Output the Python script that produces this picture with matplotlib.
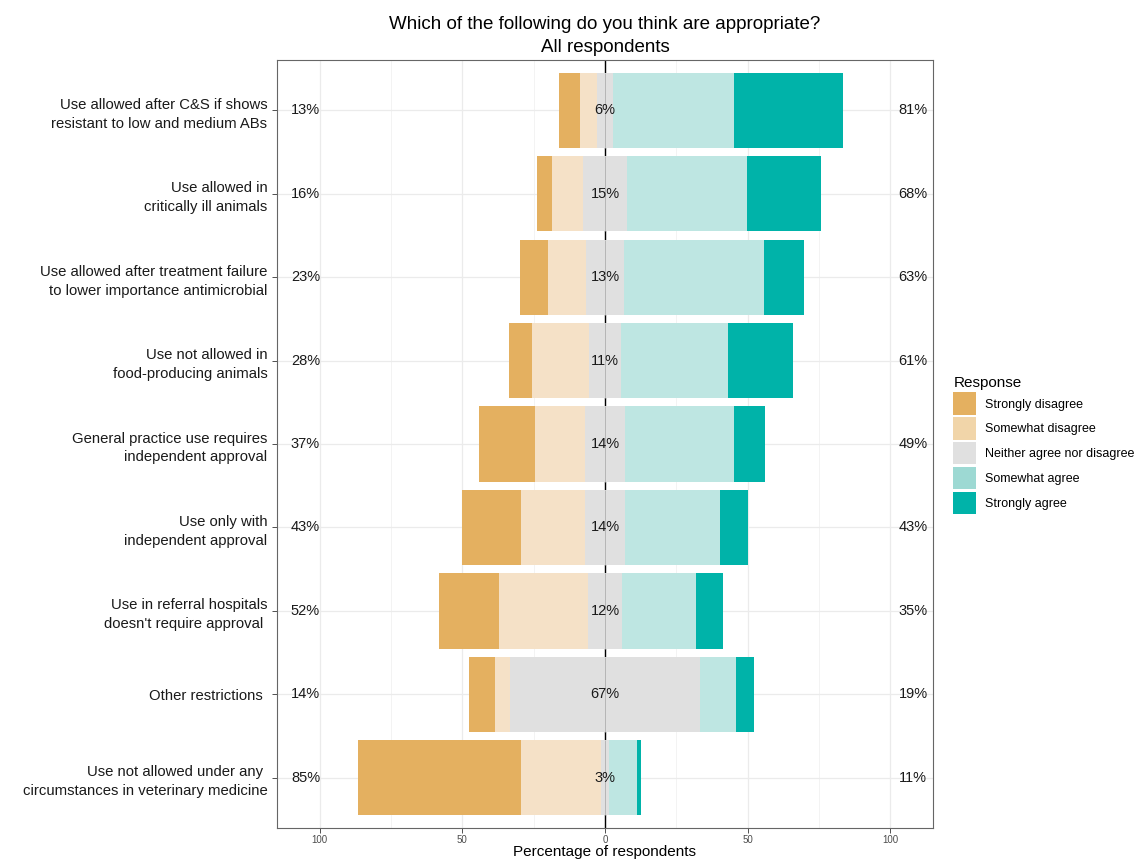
import matplotlib
matplotlib.use("Agg")
import matplotlib.pyplot as plt
from matplotlib.patches import Patch
import numpy as np

plt.rcParams["font.family"] = ["Liberation Sans", "DejaVu Sans"]

# items, top to bottom
items = [
    "Use allowed after C&S if shows\nresistant to low and medium ABs",
    "Use allowed in\ncritically ill animals",
    "Use allowed after treatment failure\nto lower importance antimicrobial",
    "Use not allowed in\nfood-producing animals",
    "General practice use requires\nindependent approval",
    "Use only with\nindependent approval",
    "Use in referral hospitals\ndoesn't require approval ",
    "Other restrictions ",
    "Use not allowed under any \ncircumstances in veterinary medicine",
]
responses = ["Strongly disagree", "Somewhat disagree", "Neither agree nor disagree",
             "Somewhat agree", "Strongly agree"]

# percentage of respondents per response level
strongly_disagree = [7.2, 5.3, 9.8, 8.2, 19.6, 20.5, 21.0, 8.9, 57.1]
somewhat_disagree = [6.0, 10.9, 13.4, 20.1, 17.4, 22.5, 31.2, 5.3, 28.0]
neutral = [5.8, 15.2, 13.3, 10.9, 14.0, 14.0, 12.2, 66.8, 3.0]
somewhat_agree = [42.5, 42.2, 49.1, 37.8, 38.4, 33.2, 25.8, 12.7, 9.6]
strongly_agree = [38.2, 26.1, 13.9, 22.8, 10.6, 9.8, 9.4, 6.1, 1.5]

bar_colors = ["#E4B060", "#F5E1C7", "#E0E0E0", "#BEE6E2", "#00B3A9"]
key_colors = ["#E4B060", "#F1D5A9", "#E0E0E0", "#9DD9D3", "#00B3A9"]

sd = np.array(strongly_disagree)
swd = np.array(somewhat_disagree)
nt = np.array(neutral)
swa = np.array(somewhat_agree)
sa = np.array(strongly_agree)

fig = plt.figure(figsize=(11.37, 8.59), dpi=100)
ax = fig.add_axes([0.2436, 0.0361, 0.577, 0.894])

y = np.arange(len(items))[::-1] + 1
bar_h = 0.9
segments = [sd, swd, nt, swa, sa]
start = -(sd + swd + nt / 2)
ax.axvline(0, color="black", lw=1.0, zorder=1)
for seg, col in zip(segments, bar_colors):
    ax.barh(y, seg, left=start, height=bar_h, color=col, linewidth=0, zorder=2)
    start = start + seg
# zero line shows faintly through the bars
ax.vlines(np.zeros(len(y)), y - bar_h / 2, y + bar_h / 2, color="#B5B5B5", lw=0.7, zorder=3)

for yi, l, m, r in zip(y, sd + swd, nt, swa + sa):
    ax.text(-105, yi, f"{l:.0f}%", ha="center", va="center", fontsize=10.5, color="#1a1a1a")
    ax.text(0, yi, f"{m:.0f}%", ha="center", va="center", fontsize=10.5, color="#1a1a1a", zorder=4)
    ax.text(108, yi, f"{r:.0f}%", ha="center", va="center", fontsize=10.5, color="#1a1a1a")

ax.set_xlim(-115, 115)
ax.set_ylim(0.4, len(items) + 0.6)
ax.set_yticks(y)
ax.set_yticklabels(items, fontsize=10.7, color="#1a1a1a", multialignment="right",
                   linespacing=1.45)
ax.set_xticks([-100, -50, 0, 50, 100])
ax.set_xticklabels(["100", "50", "0", "50", "100"], fontsize=7, color="#4D4D4D")
ax.set_xticks([-75, -25, 25, 75], minor=True)
ax.tick_params(axis="both", which="major", length=3.5, width=0.6, color="#333333")
ax.tick_params(axis="x", which="minor", length=0)
ax.tick_params(axis="x", pad=1.5)
ax.grid(True, which="major", color="#EBEBEB", lw=0.9, zorder=0)
ax.grid(True, which="minor", axis="x", color="#F1F1F1", lw=0.6, zorder=0)
ax.set_axisbelow(True)
for sp in ax.spines.values():
    sp.set_color("#666666")
    sp.set_linewidth(0.8)

ax.set_xlabel("Percentage of respondents", fontsize=11, labelpad=0)
ax.set_title("Which of the following do you think are appropriate?\nAll respondents",
             fontsize=13.5, pad=6, linespacing=1.45)

handles = [Patch(facecolor=c, edgecolor="none", label=r) for c, r in zip(key_colors, responses)]
leg = fig.legend(handles=handles, title="Response", loc="upper left",
                 bbox_to_anchor=(0.834, 0.568), frameon=False, fontsize=9,
                 title_fontsize=11, handlelength=1.85, handleheight=2.38,
                 labelspacing=0.19, handletextpad=0.65, borderaxespad=0)
leg._legend_box.align = "left"

fig.savefig("out.png", dpi=100)
